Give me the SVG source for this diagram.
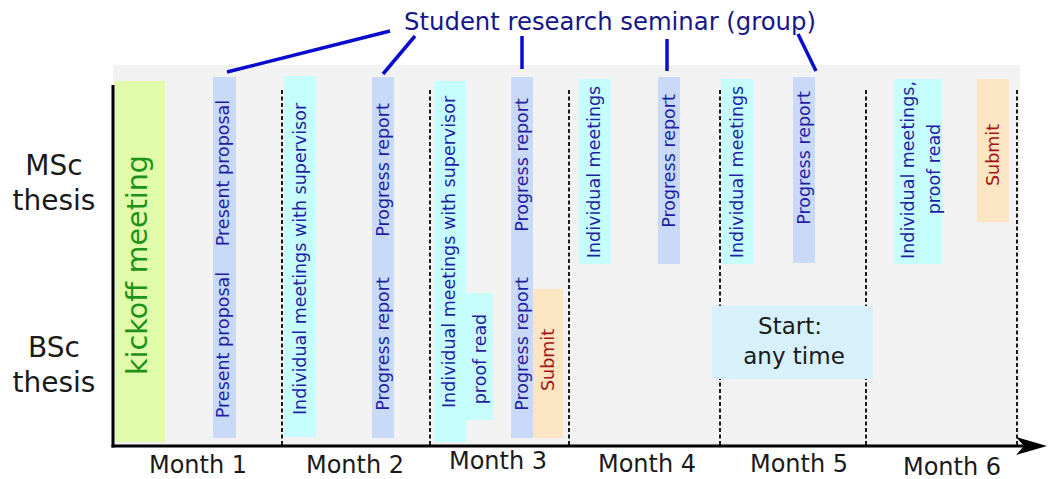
<svg xmlns="http://www.w3.org/2000/svg" width="1048" height="479" viewBox="0 0 1048 479">
<style>
text{font-family:"DejaVu Sans","Verdana",sans-serif}
.bar{fill:#c9daf8}
.cy{fill:#c6fefd}
.pe{fill:#fce5c2}
.vt{font-size:17.5px;fill:#1f1fa6;text-anchor:middle}
.sub{font-size:17.5px;fill:#a31515;text-anchor:middle}
.lbl{font-size:28px;fill:#1a1a1a;text-anchor:middle}
.mon{font-size:24px;fill:#1a1a1a;text-anchor:middle}
.dash{stroke:#1a1a1a;stroke-width:2;stroke-dasharray:4 2.5;fill:none}
.conn{stroke:#0a0acc;stroke-width:3.5;fill:none;stroke-linecap:butt}
</style>
<rect width="1048" height="479" fill="#ffffff"/>
<rect id="background" x="113" y="65" width="907" height="381" fill="#f2f2f2"/>

<g id="month-dividers">
<line class="dash" x1="282" y1="90" x2="282" y2="446"/>
<line class="dash" x1="430" y1="90" x2="430" y2="446"/>
<line class="dash" x1="569" y1="90" x2="569" y2="446"/>
<line class="dash" x1="720" y1="90" x2="720" y2="446"/>
<line class="dash" x1="866" y1="90" x2="866" y2="446"/>
<line class="dash" x1="1017" y1="90" x2="1017" y2="446"/>
</g>

<g id="kickoff">
<rect x="115" y="81" width="50" height="361" fill="#e0fcaa"/>
<text transform="translate(137,265) rotate(-90)" dy="0.35em" text-anchor="middle" font-size="28.5" fill="#1b931b">kickoff meeting</text>
</g>

<g id="present-proposal">
<rect class="bar" x="213" y="77" width="23" height="361"/>
<text class="vt" transform="translate(223,173) rotate(-90)" dy="0.35em">Present proposal</text>
<text class="vt" transform="translate(223,345) rotate(-90)" dy="0.35em">Present proposal</text>
</g>

<g id="m2-meetings">
<rect class="cy" x="284" y="76" width="32" height="361"/>
<text class="vt" transform="translate(300,259) rotate(-90)" dy="0.35em">Individual meetings with supervisor</text>
</g>

<g id="m2-progress">
<rect class="bar" x="372" y="77" width="22" height="361"/>
<text class="vt" transform="translate(383,170) rotate(-90)" dy="0.35em">Progress report</text>
<text class="vt" transform="translate(383,344) rotate(-90)" dy="0.35em">Progress report</text>
</g>

<g id="m3-meetings">
<path class="cy" d="M434 81 H466 V293 H493 V420 H466 V442 H434 Z"/>
<text class="vt" transform="translate(449,252) rotate(-90)" dy="0.35em">Individual meetings with supervisor</text>
<text class="vt" transform="translate(480,359) rotate(-90)" dy="0.35em">proof read</text>
</g>

<g id="m3-progress">
<rect class="bar" x="511" y="77" width="22" height="361"/>
<text class="vt" transform="translate(522,165) rotate(-90)" dy="0.35em">Progress report</text>
<text class="vt" transform="translate(522,344) rotate(-90)" dy="0.35em">Progress report</text>
</g>

<g id="bsc-submit">
<rect class="pe" x="533" y="289" width="30" height="149"/>
<text class="sub" transform="translate(548,360) rotate(-90)" dy="0.35em">Submit</text>
</g>

<g id="m4-meetings">
<rect class="cy" x="579" y="79" width="32" height="185"/>
<text class="vt" transform="translate(594,172) rotate(-90)" dy="0.35em">Individual meetings</text>
</g>

<g id="m4-progress">
<rect class="bar" x="658" y="77" width="22" height="187"/>
<text class="vt" transform="translate(669,161) rotate(-90)" dy="0.35em">Progress report</text>
</g>

<g id="m5-meetings">
<rect class="cy" x="721" y="79" width="32" height="185"/>
<text class="vt" transform="translate(737,172) rotate(-90)" dy="0.35em">Individual meetings</text>
</g>

<g id="m5-progress">
<rect class="bar" x="793" y="77" width="22" height="186"/>
<text class="vt" transform="translate(804,158) rotate(-90)" dy="0.35em">Progress report</text>
</g>

<g id="m6-meetings">
<rect class="cy" x="894" y="79" width="48" height="185"/>
<text class="vt" transform="translate(908,170) rotate(-90)" dy="0.35em">Individual meetings,</text>
<text class="vt" transform="translate(934,169) rotate(-90)" dy="0.35em">proof read</text>
</g>

<g id="msc-submit">
<rect class="pe" x="977" y="79" width="32" height="143"/>
<text class="sub" transform="translate(993,155) rotate(-90)" dy="0.35em">Submit</text>
</g>

<g id="bsc-start">
<rect x="712" y="306" width="161" height="73" fill="#d6f0fc"/>
<text x="790" y="334" font-size="23" fill="#1a1a1a" text-anchor="middle">Start:</text>
<text x="794" y="364" font-size="23" fill="#1a1a1a" text-anchor="middle">any time</text>
</g>

<g id="axes">
<line x1="113" y1="85" x2="113" y2="447.5" stroke="#000" stroke-width="3"/>
<line x1="111.5" y1="446" x2="1030" y2="446" stroke="#000" stroke-width="3"/>
<polygon points="1047,446 1016,437 1024,446 1016,455" fill="#000"/>
</g>

<g id="row-labels">
<text class="lbl" x="54" y="175">MSc</text>
<text class="lbl" x="54" y="210">thesis</text>
<text class="lbl" x="54" y="357">BSc</text>
<text class="lbl" x="54" y="392">thesis</text>
</g>

<g id="month-labels">
<text class="mon" x="198" y="473">Month 1</text>
<text class="mon" x="355" y="473">Month 2</text>
<text class="mon" x="498" y="469">Month 3</text>
<text class="mon" x="647" y="472">Month 4</text>
<text class="mon" x="799" y="472">Month 5</text>
<text class="mon" x="952" y="475">Month 6</text>
</g>

<g id="seminar-title">
<text x="610" y="30" font-size="24.3" fill="#16168a" text-anchor="middle">Student research seminar (group)</text>
</g>

<g id="connectors">
<line class="conn" x1="227" y1="72" x2="390" y2="31"/>
<line class="conn" x1="383" y1="74" x2="415" y2="36"/>
<line class="conn" x1="522" y1="36" x2="522" y2="69"/>
<line class="conn" x1="667" y1="39" x2="667" y2="71"/>
<line class="conn" x1="798" y1="34" x2="816" y2="71"/>
</g>
</svg>
